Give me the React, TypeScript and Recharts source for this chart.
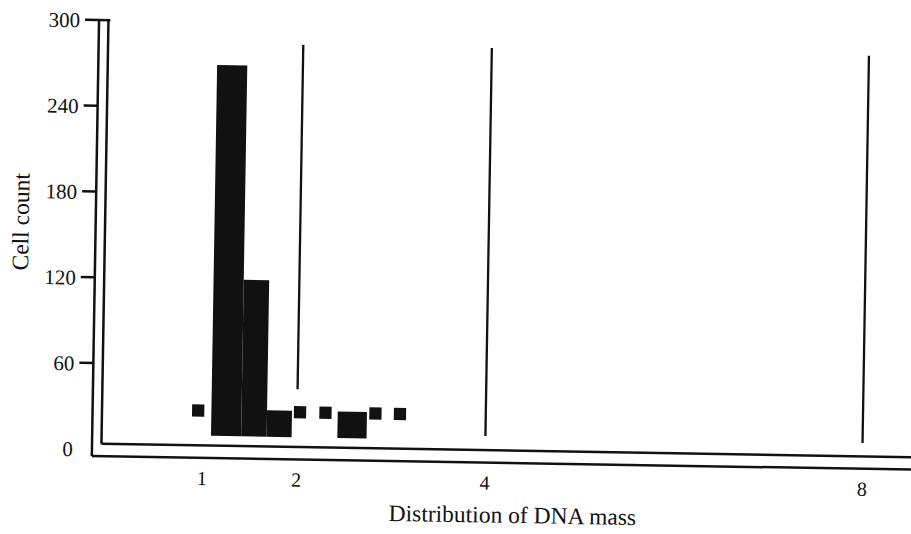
import React from 'react';
import {
  ComposedChart,
  XAxis,
  YAxis,
  ZAxis,
  Scatter,
  ReferenceArea,
  ReferenceLine,
} from 'recharts';

// ---- data ----
const binStart = [1.09, 1.41, 1.68, 2.43];
const binEnd = [1.41, 1.68, 1.945, 2.74];
const binLow = [10.5, 10.5, 10.5, 10.5];
const binHigh = [270, 120, 29, 29];

const markerX = [0.95, 2.03, 2.3, 2.83, 3.09];
const markerY = [28, 28, 28, 28, 28];

const ploidyLines = [2, 4, 8];
const ploidyTop = [285, 285, 284];
const ploidyBottom = [44, 13.6, 13.1];

const xTicks = [1, 2, 4, 8];
const yTicks = [0, 60, 120, 180, 240, 300];

// ---- layout / style constants ----
const W = 938;
const H = 540;
const X_DOMAIN: [number, number] = [-0.17, 8.77];
const Y_DOMAIN: [number, number] = [-5, 300];
const INNER_X = -0.07;
const INNER_Y = 3.7;
const INK = '#111111';
const FONT = '"Liberation Serif", "Times New Roman", serif';

const markerData = markerX.map((x, i) => ({ x, y: markerY[i] }));

const YTick = (props: any) => {
  const { x, y, payload } = props;
  return (
    <g>
      {payload.value !== 0 && (
        <line x1={x + 5} x2={x + 19} y1={y} y2={y} stroke={INK} strokeWidth={2.5} />
      )}
      <text
        x={x}
        y={y}
        dy="0.36em"
        textAnchor="end"
        fontFamily={FONT}
        fontSize={21}
        fill={INK}
      >
        {payload.value}
      </text>
    </g>
  );
};

export default function App() {
  return (
    <div
      style={{
        position: 'absolute',
        left: 0,
        top: 0,
        width: 911,
        height: 534,
        overflow: 'hidden',
        background: '#fff',
      }}
    >
      <div
        style={{
          width: W,
          height: H,
          transform: 'rotate(0.95deg)',
          transformOrigin: '455.5px 267px',
        }}
      >
        <ComposedChart
          width={W}
          height={H}
          data={markerData}
          margin={{ top: 26, right: 0, bottom: 0, left: 0 }}
        >
          <XAxis
            dataKey="x"
            type="number"
            domain={X_DOMAIN}
            allowDataOverflow
            ticks={xTicks}
            tickLine={false}
            tickSize={8}
            tickMargin={5}
            height={78}
            axisLine={{ stroke: INK, strokeWidth: 2.5 }}
            tick={{ fill: INK, fontSize: 20, fontFamily: FONT }}
            label={(p: any) => {
              const vb = p.viewBox;
              return (
                <text
                  x={vb.x + vb.width / 2}
                  y={522}
                  textAnchor="middle"
                  fontFamily={FONT}
                  fontSize={23.5}
                  fill={INK}
                >
                  Distribution of DNA mass
                </text>
              );
            }}
          />
          <YAxis
            type="number"
            domain={Y_DOMAIN}
            allowDataOverflow
            ticks={yTicks}
            width={95}
            tickLine={false}
            tickSize={14}
            tickMargin={5}
            axisLine={{ stroke: INK, strokeWidth: 2.5 }}
            tick={<YTick />}
            label={() => (
              <text
                x={20}
                y={229}
                transform="rotate(-90 20 229)"
                textAnchor="middle"
                dominantBaseline="central"
                fontFamily={FONT}
                fontSize={23.5}
                fill={INK}
              >
                Cell count
              </text>
            )}
          />
          <ZAxis type="number" range={[150, 150]} />

          {/* inner frame of the double axis */}
          <ReferenceLine
            segment={[
              { x: INNER_X, y: INNER_Y },
              { x: INNER_X, y: 300 },
            ]}
            stroke={INK}
            strokeWidth={2.5}
            ifOverflow="visible"
          />
          <ReferenceLine
            segment={[
              { x: INNER_X, y: INNER_Y },
              { x: X_DOMAIN[1], y: INNER_Y },
            ]}
            stroke={INK}
            strokeWidth={2.5}
            ifOverflow="visible"
          />
          <ReferenceLine
            segment={[
              { x: X_DOMAIN[0], y: 300 },
              { x: INNER_X + 0.02, y: 300 },
            ]}
            stroke={INK}
            strokeWidth={2.5}
            ifOverflow="visible"
          />

          {/* histogram bins */}
          {binStart.map((x1, i) => (
            <ReferenceArea
              key={'bin' + i}
              x1={x1}
              x2={binEnd[i]}
              y1={binLow[i]}
              y2={binHigh[i]}
              fill={INK}
              fillOpacity={1}
              stroke="none"
              ifOverflow="visible"
            />
          ))}

          {/* ploidy marker lines */}
          {ploidyLines.map((x, i) => (
            <ReferenceLine
              key={'pl' + i}
              segment={[
                { x, y: ploidyBottom[i] },
                { x, y: ploidyTop[i] },
              ]}
              stroke={INK}
              strokeWidth={2.3}
              ifOverflow="visible"
            />
          ))}

          <Scatter
            dataKey="y"
            fill={INK}
            shape="square"
            isAnimationActive={false}
          />
        </ComposedChart>
      </div>
    </div>
  );
}
